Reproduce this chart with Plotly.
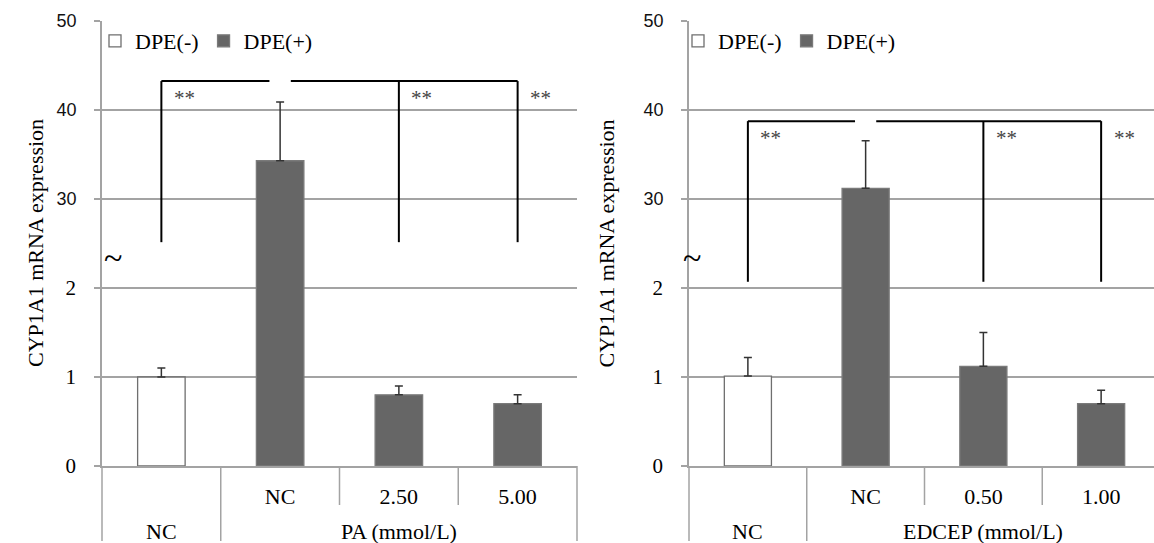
import plotly.graph_objects as go

# ---------------- data ----------------
left_groups = ["NC", "PA (mmol/L)", "PA (mmol/L)", "PA (mmol/L)"]
left_labels = ["", "NC", "2.50", "5.00"]
left_dpe_minus = [1.00, None, None, None]
left_dpe_minus_sd = [0.10, None, None, None]
left_dpe_plus = [None, 34.3, 0.80, 0.70]
left_dpe_plus_sd = [None, 6.6, 0.10, 0.10]

right_groups = ["NC", "EDCEP (mmol/L)", "EDCEP (mmol/L)", "EDCEP (mmol/L)"]
right_labels = ["", "NC", "0.50", "1.00"]
right_dpe_minus = [1.01, None, None, None]
right_dpe_minus_sd = [0.21, None, None, None]
right_dpe_plus = [None, 31.2, 1.12, 0.70]
right_dpe_plus_sd = [None, 5.35, 0.38, 0.15]

lower_ticks = [0, 1, 2]
upper_ticks = [30, 40, 50]

# significance: DPE(+) NC compared with these categories
sig_reference = 1
sig_targets = [0, 2, 3]
sig_label = "**"

y_title = "CYP1A1 mRNA expression"
series_names = ["DPE(-)", "DPE(+)"]

# ---------------- geometry / style ----------------
W, H = 1154, 543
TOP_PX, BOT_PX = 21, 466
PH = BOT_PX - TOP_PX
BREAK_PX = 257


def py(px):
    return (BOT_PX - px) / PH


BRK = py(BREAK_PX)
LOW_MAX = (BOT_PX - BREAK_PX) / 89.0
UP_MAX = 50.0
UP_MIN = UP_MAX - (BREAK_PX - TOP_PX) / 8.9

SERIF = "Liberation Serif, Times New Roman, serif"
SANS = "Liberation Sans, Arial, sans-serif"
GRID = "#a3a3a3"
DARK = "#666666"

panels = [
    dict(groups=left_groups, labels=left_labels,
         minus=left_dpe_minus, minus_sd=left_dpe_minus_sd,
         plus=left_dpe_plus, plus_sd=left_dpe_plus_sd,
         xa="x", ylo="y", yup="y2", legend="legend",
         dom=[102 / W, 577 / W], xrange=[-0.5, 3.5],
         title_x=21 / W, tilde_x=102 / W, legend_x=95 / W,
         br_top=43.25, br_bottom=("up", 25.15), star_y=41.4),
    dict(groups=right_groups, labels=right_labels,
         minus=right_dpe_minus, minus_sd=right_dpe_minus_sd,
         plus=right_dpe_plus, plus_sd=right_dpe_plus_sd,
         xa="x2", ylo="y3", yup="y4", legend="legend2",
         dom=[689 / W, 1.0], xrange=[-0.5, 3.449],
         title_x=606 / W, tilde_x=692 / W, legend_x=678 / W,
         br_top=38.75, br_bottom=("low", 2.07), star_y=36.9),
]

fig = go.Figure()
shapes = []
annotations = []
layout_axes = {}


def split(vals, sds):
    xs = list(range(len(vals)))
    lo_y = [v for v in vals]
    lo_e = [sd if (v is not None and v <= LOW_MAX) else None for v, sd in zip(vals, sds)]
    up_y = [v if (v is not None and v > UP_MIN) else None for v in vals]
    up_e = [sd if (v is not None and v > UP_MIN) else None for v, sd in zip(vals, sds)]
    return xs, lo_y, lo_e, up_y, up_e


for p in panels:
    for si, (vals, sds, fill, lcol) in enumerate([
            (p["minus"], p["minus_sd"], "white", "#6f6f6f"),
            (p["plus"], p["plus_sd"], DARK, "#7a7a7a")]):
        xs, lo_y, lo_e, up_y, up_e = split(vals, sds)
        for yy, ee, yax, show in [(lo_y, lo_e, p["ylo"], True), (up_y, up_e, p["yup"], False)]:
            fig.add_trace(go.Bar(
                x=xs, y=yy, width=0.4, name=series_names[si],
                xaxis=p["xa"], yaxis=yax, legend=p["legend"], showlegend=show,
                marker=dict(color=fill, line=dict(color=lcol, width=1.3)),
                error_y=dict(type="data", symmetric=False, array=ee,
                             arrayminus=[0 if e is not None else None for e in ee],
                             color="#333333", thickness=1.5, width=4),
                hoverinfo="skip"))

    # significance brackets
    ref = sig_reference
    gap = 0.09
    top = p["br_top"]
    bot_axis, bot_val = p["br_bottom"]
    line = dict(color="black", width=2)
    for t in sig_targets:
        if bot_axis == "up":
            fig.add_trace(go.Scatter(x=[t, t], y=[bot_val, top], mode="lines", line=line,
                                     xaxis=p["xa"], yaxis=p["yup"], showlegend=False, hoverinfo="skip"))
        else:
            fig.add_trace(go.Scatter(x=[t, t], y=[UP_MIN, top], mode="lines", line=line,
                                     xaxis=p["xa"], yaxis=p["yup"], showlegend=False, hoverinfo="skip"))
            fig.add_trace(go.Scatter(x=[t, t], y=[bot_val, LOW_MAX], mode="lines", line=line,
                                     xaxis=p["xa"], yaxis=p["ylo"], showlegend=False, hoverinfo="skip"))
        annotations.append(dict(x=t, y=p["star_y"], xref=p["xa"], yref=p["yup"], xshift=23,
                                text=sig_label, showarrow=False,
                                font=dict(family=SERIF, size=21, color="#444444")))
    left_t = [t for t in sig_targets if t < ref]
    right_t = [t for t in sig_targets if t > ref]
    if left_t:
        fig.add_trace(go.Scatter(x=[min(left_t), ref - gap], y=[top, top], mode="lines", line=line,
                                 xaxis=p["xa"], yaxis=p["yup"], showlegend=False, hoverinfo="skip"))
    if right_t:
        fig.add_trace(go.Scatter(x=[ref + gap, max(right_t)], y=[top, top], mode="lines", line=line,
                                 xaxis=p["xa"], yaxis=p["yup"], showlegend=False, hoverinfo="skip"))

    # category table separators
    n = len(p["labels"])
    bottom_full = py(541)
    bottom_short = py(505)
    for b in range(n - 1):
        xb = b + 0.5
        full = p["groups"][b] != p["groups"][b + 1]
        shapes.append(dict(type="line", xref=p["xa"], yref="paper", x0=xb, x1=xb,
                           y0=0, y1=bottom_full if full else bottom_short,
                           line=dict(color=GRID, width=1.5), layer="above"))
    axname = p["xa"] + " domain"
    shapes.append(dict(type="line", xref=axname, yref="paper", x0=0, x1=0, y0=0, y1=bottom_full,
                       line=dict(color=GRID, width=1.5)))
    if p["xrange"][1] >= n - 0.5:
        shapes.append(dict(type="line", xref=axname, yref="paper", x0=1, x1=1, y0=0, y1=bottom_full,
                           line=dict(color=GRID, width=1.5)))

    # group labels
    seen = []
    for g in p["groups"]:
        if g not in seen:
            seen.append(g)
    for g in seen:
        idx = [i for i, gg in enumerate(p["groups"]) if gg == g]
        annotations.append(dict(x=sum(idx) / len(idx), y=py(531), xref=p["xa"], yref="paper",
                                text=g, showarrow=False, yanchor="middle",
                                font=dict(family=SERIF, size=22, color="black")))

    # y title and break mark
    annotations.append(dict(x=p["title_x"], y=0.5, xref="paper", yref="paper", text=y_title,
                            textangle=-90, showarrow=False,
                            font=dict(family=SERIF, size=22, color="black")))
    annotations.append(dict(x=p["tilde_x"], y=BRK, xref="paper", yref="paper", text="~",
                            showarrow=False, font=dict(family=SERIF, size=34, color="black")))

    # axes
    xkey = "xaxis" if p["xa"] == "x" else "xaxis" + p["xa"][1:]
    lokey = "yaxis" if p["ylo"] == "y" else "yaxis" + p["ylo"][1:]
    upkey = "yaxis" + p["yup"][1:]
    layout_axes[xkey] = dict(domain=p["dom"], range=p["xrange"], anchor=p["ylo"],
                             tickmode="array", tickvals=list(range(n)), ticktext=p["labels"],
                             ticks="", showline=True, linecolor=GRID, linewidth=1.5,
                             showgrid=False, zeroline=False, ticklabelstandoff=10,
                             tickfont=dict(family=SERIF, size=22, color="black"))
    common_y = dict(anchor=p["xa"], showline=True, linecolor=GRID, linewidth=1.5,
                    showgrid=True, gridcolor=GRID, gridwidth=1.5, zeroline=False,
                    ticks="outside", ticklen=6, tickcolor=GRID, tickwidth=1.5,
                    ticklabelstandoff=14, tickmode="array")
    layout_axes[lokey] = dict(common_y, domain=[0, BRK], range=[0, LOW_MAX], tickvals=lower_ticks,
                              tickfont=dict(family=SERIF, size=21, color="black"))
    layout_axes[upkey] = dict(common_y, domain=[BRK, 1], range=[UP_MIN, UP_MAX], tickvals=upper_ticks,
                              tickfont=dict(family=SANS, size=18, color="#111111"))

legend_common = dict(orientation="h", yanchor="middle", xanchor="left", y=py(41),
                     bgcolor="rgba(0,0,0,0)", font=dict(family=SERIF, size=22, color="black"),
                     itemclick=False, itemdoubleclick=False, traceorder="normal")

fig.update_layout(
    width=W, height=H,
    margin=dict(l=0, r=0, t=TOP_PX, b=H - BOT_PX),
    paper_bgcolor="white", plot_bgcolor="white",
    barmode="overlay",
    showlegend=True,
    legend=dict(legend_common, x=panels[0]["legend_x"]),
    legend2=dict(legend_common, x=panels[1]["legend_x"]),
    shapes=shapes, annotations=annotations,
    **layout_axes,
)

fig.write_html("out.html")
